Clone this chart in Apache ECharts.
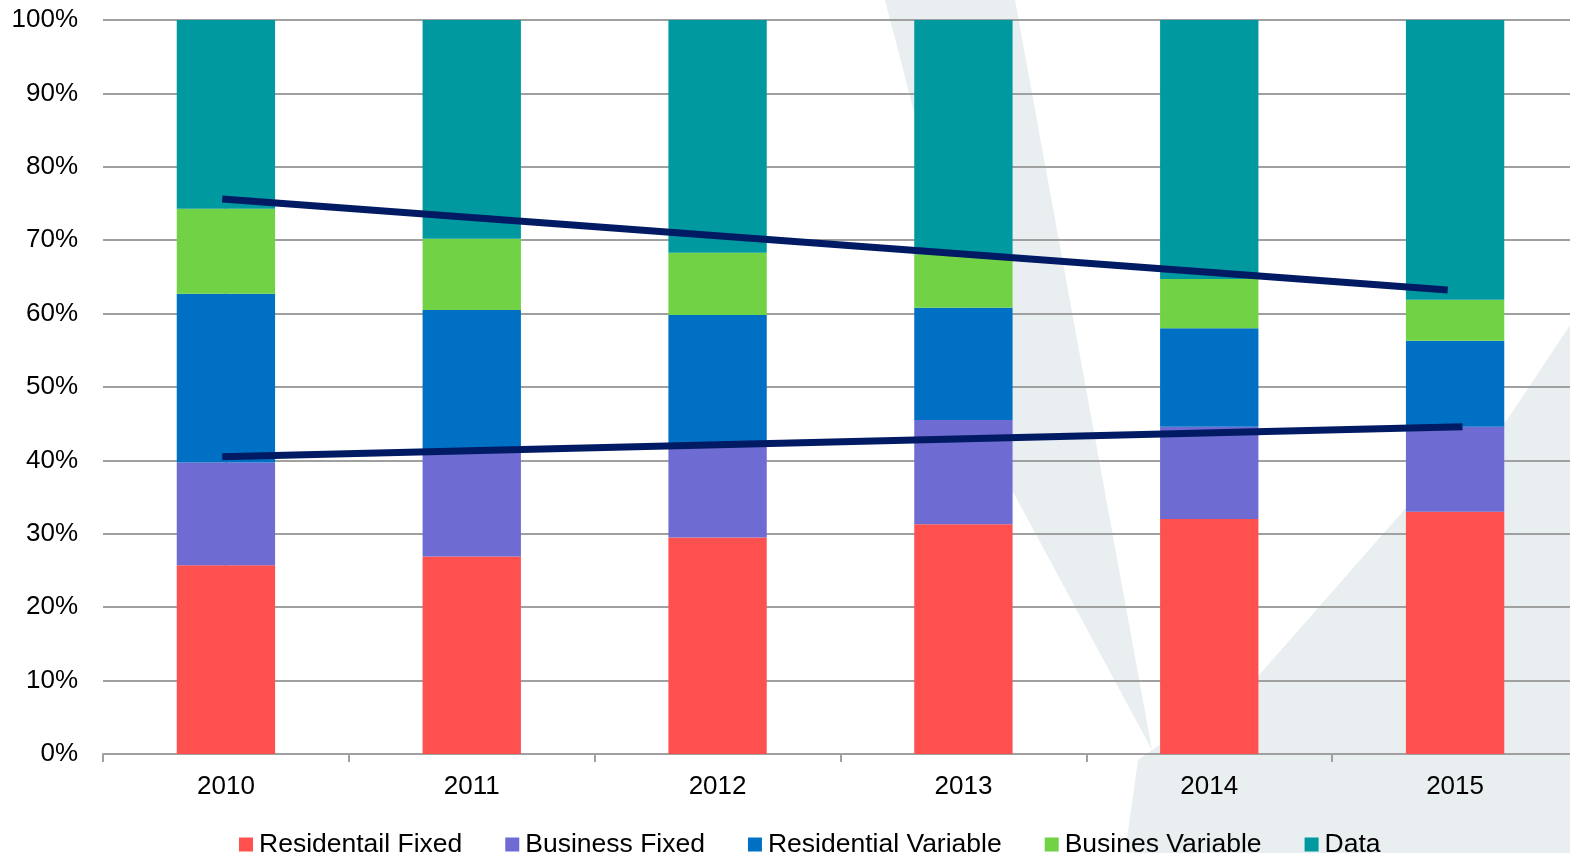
<!DOCTYPE html>
<html>
<head>
<meta charset="utf-8">
<script src="https://cdn.jsdelivr.net/npm/echarts@6/dist/echarts.min.js"></script>
<style>
  html, body { margin: 0; padding: 0; background: #fff; }
  #chart { width: 1570px; height: 853px; }
</style>
</head>
<body>
<div id="chart"></div>
<script>
// years and the share (%) of each segment
var years = ['2010', '2011', '2012', '2013', '2014', '2015'];
var resFixed = [25.7, 26.9, 29.5, 31.3, 32.0, 33.0];
var busFixed = [14.0, 14.4, 12.6, 14.2, 12.6, 11.6];
var resVariable = [23.0, 19.2, 17.7, 15.3, 13.4, 11.7];
var busVariable = [11.6, 9.7, 8.5, 7.3, 6.7, 5.6];
var dataShare = [25.7, 29.8, 31.7, 31.9, 35.3, 38.1];

// hand-drawn trend lines: [category position, percent]
var upperTrend = [[-0.015, 75.6], [4.97, 63.2]];
var lowerTrend = [[-0.015, 40.5], [5.03, 44.6]];

var chart = echarts.init(document.getElementById('chart'));

function barSeries(name, values, color) {
    return {
        name: name,
        type: 'bar',
        stack: 'total',
        barWidth: '40%',
        data: values,
        itemStyle: { color: color }
    };
}

function trendSeries(points) {
    return {
        type: 'line',
        xAxisIndex: 1,
        yAxisIndex: 0,
        data: points,
        symbol: 'none',
        z: 5,
        lineStyle: { color: '#001a63', width: 7, cap: 'butt' }
    };
}

var watermark = { fill: '#e9eef0' };

var option = {
    animation: false,
    textStyle: { fontFamily: 'Liberation Sans, Arial, sans-serif' },
    // faint watermark shape in the background
    graphic: [{
        type: 'polygon',
        z: -100,
        silent: true,
        shape: { points: [[885, 0], [1015, 0], [1152, 750], [1012, 490]] },
        style: watermark
    }, {
        type: 'polygon',
        z: -100,
        silent: true,
        shape: { points: [[1138, 760], [1260, 674], [1404, 510], [1507, 420], [1570, 325], [1570, 853], [1125, 853]] },
        style: watermark
    }],
    grid: { left: 103, right: -8, top: 20, bottom: 99, outerBoundsMode: 'none' },
    legend: {
        data: ['Residentail Fixed', 'Business Fixed', 'Residential Variable', 'Busines Variable', 'Data'],
        left: 234,
        top: 826,
        itemWidth: 14,
        itemHeight: 14,
        itemGap: 43,
        icon: 'rect',
        textStyle: { fontSize: 26.5, color: '#000', padding: [0, 0, 0, 1] }
    },
    xAxis: [{
        type: 'category',
        data: years,
        axisLine: { lineStyle: { color: '#a0a0a0', width: 2 } },
        axisTick: { show: true, length: 8, lineStyle: { color: '#a0a0a0', width: 2 } },
        axisLabel: { fontSize: 26, color: '#000', margin: 20 }
    }, {
        type: 'value',
        min: -0.5,
        max: 5.5,
        show: false
    }],
    yAxis: {
        type: 'value',
        min: 0,
        max: 100,
        interval: 10,
        axisLine: { show: true, lineStyle: { color: '#a0a0a0', width: 2 } },
        axisTick: { show: false },
        axisLabel: { formatter: '{value}%', fontSize: 26, color: '#000', margin: 25 },
        splitLine: { lineStyle: { color: '#a0a0a0', width: 2 } }
    },
    series: [
        barSeries('Residentail Fixed', resFixed, '#ff5050'),
        barSeries('Business Fixed', busFixed, '#6e6bd2'),
        barSeries('Residential Variable', resVariable, '#0070c4'),
        barSeries('Busines Variable', busVariable, '#70d244'),
        barSeries('Data', dataShare, '#0099a0'),
        trendSeries(upperTrend),
        trendSeries(lowerTrend)
    ]
};

option && chart.setOption(option);
</script>
</body>
</html>
